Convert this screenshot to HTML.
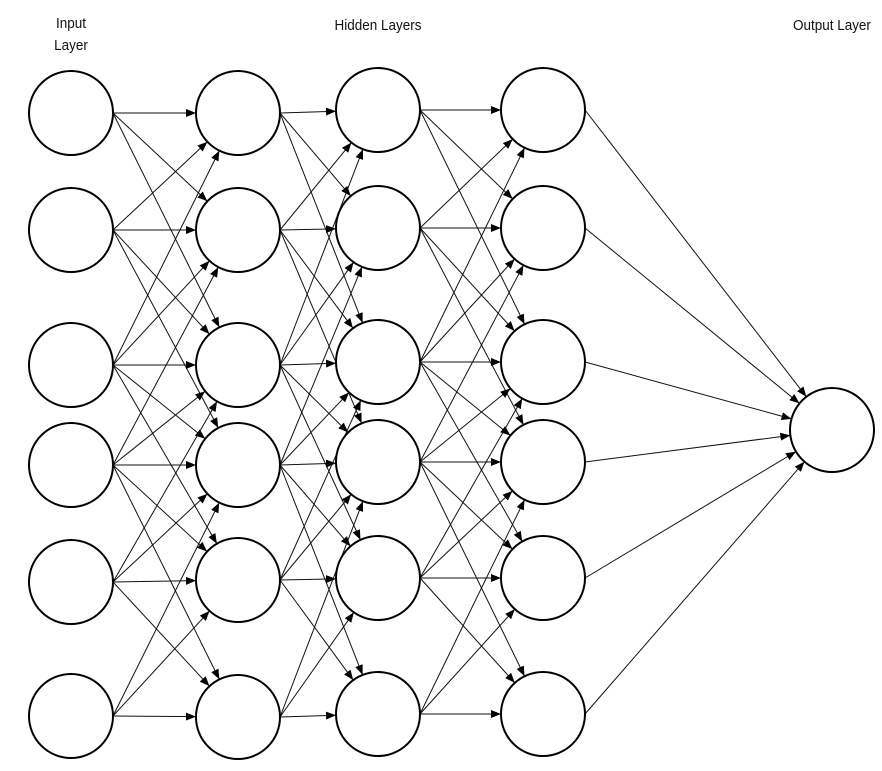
<!DOCTYPE html>
<html><head><meta charset="utf-8"><style>
html,body{margin:0;padding:0;background:#fff;width:882px;height:771px;overflow:hidden}
text{font-family:"Liberation Sans",sans-serif;font-size:15px;fill:#111}
</style></head><body>
<svg id="s" width="882" height="771" viewBox="0 0 882 771" xmlns="http://www.w3.org/2000/svg">
<defs><marker id="a" markerWidth="10" markerHeight="8" refX="10" refY="4" orient="auto" markerUnits="userSpaceOnUse"><path d="M0,0 L10,4 L0,8 z" fill="#000"/></marker></defs>
<text x="71" y="28" text-anchor="middle" transform="scale(0.9,1) translate(7.9,0)">Input</text>
<text x="71" y="50" text-anchor="middle" transform="scale(0.9,1) translate(7.9,0)">Layer</text>
<text x="378" y="30" text-anchor="middle" transform="scale(0.9,1) translate(42,0)">Hidden Layers</text>
<text x="832" y="30" text-anchor="middle" transform="scale(0.9,1) translate(92.4,0)">Output Layer</text>
<g id="L" stroke="#111" stroke-width="1" fill="none"></g>
<g id="C" stroke="#000" stroke-width="2" fill="#fff"></g>
</svg>
<script>
var cols=[{x:71,ys:[113,230,365,465,582,716]},{x:238,ys:[113,230,365,465,580,717]},{x:378,ys:[110,228,362,462,578,714]},{x:543,ys:[110,228,362,462,578,714]}];
var out={x:832,y:430},r=42;
var L=document.getElementById('L'),C=document.getElementById('C'),ns='http://www.w3.org/2000/svg';
function line(x1,y1,x2,y2){var dx=x2-x1,dy=y2-y1,d=Math.hypot(dx,dy);var ex=x2-dx/d*r,ey=y2-dy/d*r;var l=document.createElementNS(ns,'line');l.setAttribute('x1',x1);l.setAttribute('y1',y1);l.setAttribute('x2',ex);l.setAttribute('y2',ey);l.setAttribute('marker-end','url(#a)');L.appendChild(l);}
function circ(x,y){var c=document.createElementNS(ns,'circle');c.setAttribute('cx',x);c.setAttribute('cy',y);c.setAttribute('r',r);C.appendChild(c);}
for(var k=0;k<3;k++){var A=cols[k],B=cols[k+1];for(var i=0;i<6;i++)for(var j=0;j<6;j++){if(Math.abs(i-j)<=2)line(A.x+r,A.ys[i],B.x,B.ys[j]);}}
cols[3].ys.forEach(function(y){line(cols[3].x+r,y,out.x,out.y);});
cols.forEach(function(c){c.ys.forEach(function(y){circ(c.x,y);});});
circ(out.x,out.y);
</script>
</body></html>
